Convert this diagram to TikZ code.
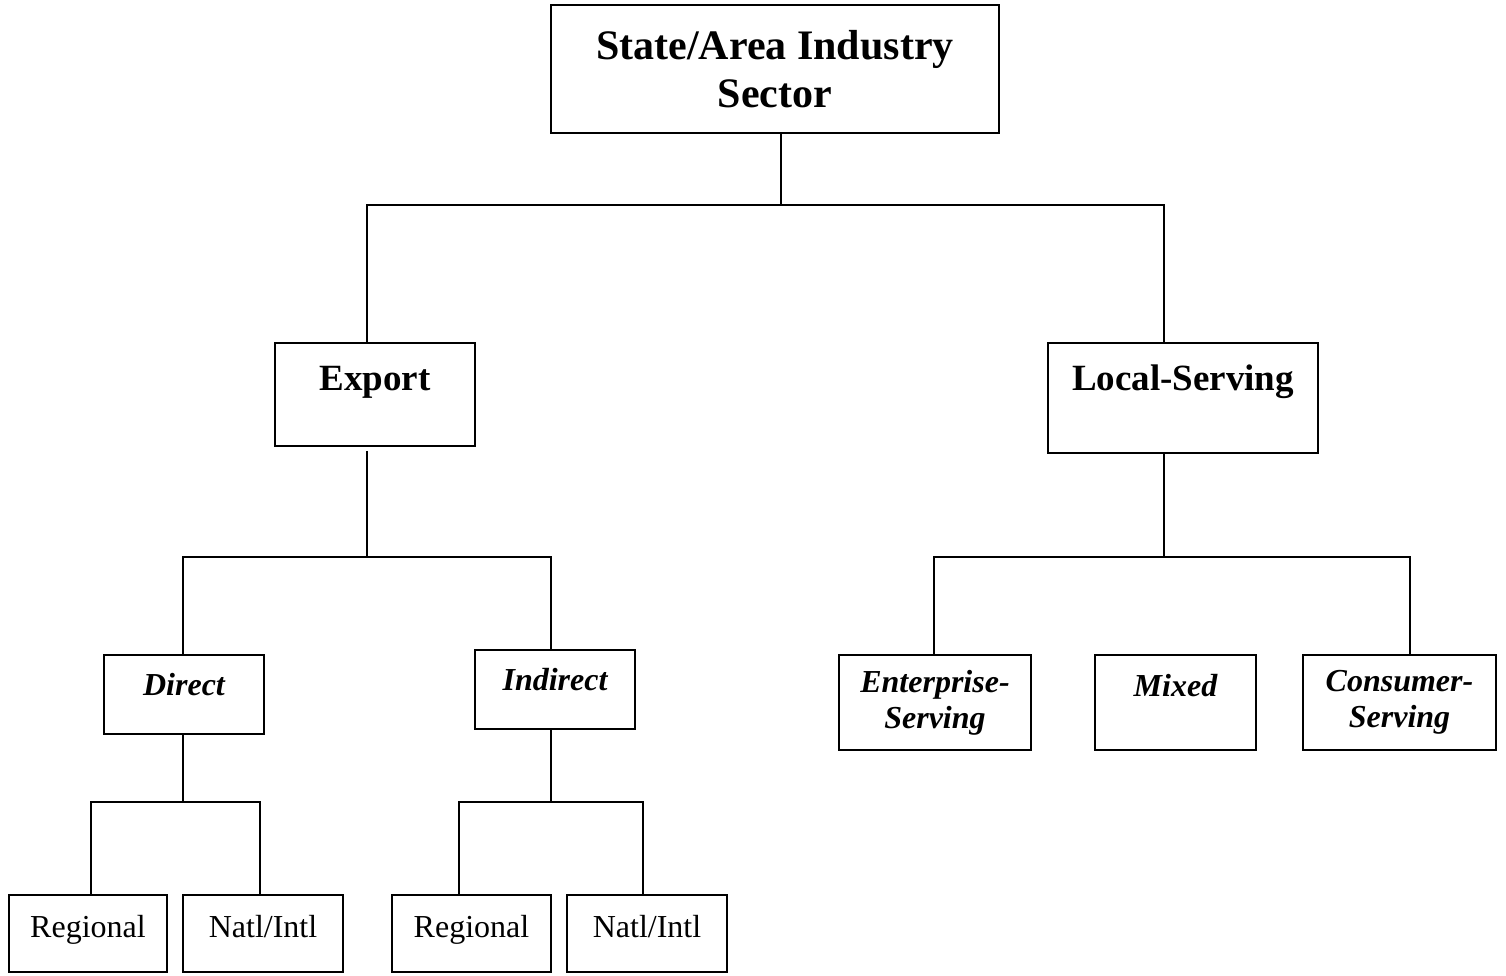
\documentclass[tikz,border=0pt]{standalone}
\usepackage{fontspec}
\setmainfont{Liberation Serif}
\usepackage{tikz}
\usetikzlibrary{positioning}

\begin{document}
\begin{tikzpicture}[
  x=1pt,y=-1pt,
  box/.style={rectangle,draw=black,line width=1.6pt,inner sep=0pt,align=center},
  topnode/.style={box,font=\fontsize{42}{48}\selectfont\bfseries},
  secnode/.style={box,font=\fontsize{37}{44}\selectfont\bfseries},
  subnode/.style={box,font=\fontsize{32}{36}\selectfont\bfseries\itshape},
  leafnode/.style={box,font=\fontsize{32}{38}\selectfont},
  link/.style={line width=1.6pt,black},
]
\useasboundingbox (0,0) rectangle (1506,975);

% Top level
\node[topnode,minimum width=448pt,minimum height=128pt] (sector) at (775,69) {State/Area Industry\\Sector};

% Second level
\node[secnode,minimum width=200pt,text height=47pt,text depth=56pt] (export) at (375,394.5) {Export};
\node[secnode,minimum width=270pt,text height=47pt,text depth=63pt] (local)  at (1183,398) {Local-Serving};

% Export branch
\node[subnode,minimum width=160pt,text height=40pt,text depth=39pt] (direct)   at (184,694.5) {Direct};
\node[subnode,minimum width=160pt,text height=40pt,text depth=39pt] (indirect) at (555,689.5) {Indirect};

% Local-serving branch
\node[subnode,minimum width=192pt,minimum height=95pt] (enterprise) at (935,702.5) {Enterprise-\\Serving};
\node[subnode,minimum width=161pt,text height=41pt,text depth=54pt] (mixed) at (1175.5,702.5) {Mixed};
\node[subnode,minimum width=193pt,minimum height=95pt] (consumer) at (1399.5,702.5) {Consumer-\\Serving};

% Bottom level
\node[leafnode,minimum width=158pt,text height=42pt,text depth=35pt] (regA) at (88,933.5)  {Regional};
\node[leafnode,minimum width=160pt,text height=42pt,text depth=35pt] (natA) at (263,933.5) {Natl/Intl};
\node[leafnode,minimum width=159pt,text height=42pt,text depth=35pt] (regB) at (471.5,933.5) {Regional};
\node[leafnode,minimum width=160pt,text height=42pt,text depth=35pt] (natB) at (647,933.5) {Natl/Intl};

% Junctions
\coordinate (busA) at (781,205);
\coordinate (busB) at (367,557);
\coordinate (busC) at (1164,557);
\coordinate (busD) at (183,802);
\coordinate (busE) at (551,802);

% Connectors
\draw[link] ([xshift=6pt]sector.south) -- (busA);
\draw[link] ([xshift=-8pt]export.north) |- (busA) -| ([xshift=-19pt]local.north);

\draw[link] ([xshift=-8pt,yshift=-4pt]export.south) -- (busB);
\draw[link] ([xshift=-1pt]direct.north) |- (busB) -| ([xshift=-4pt]indirect.north);

\draw[link] ([xshift=-19pt]local.south) -- (busC);
\draw[link] ([xshift=-1pt]enterprise.north) |- (busC) -| ([xshift=10.5pt]consumer.north);

\draw[link] ([xshift=-1pt]direct.south) -- (busD);
\draw[link] ([xshift=3pt]regA.north) |- (busD) -| ([xshift=-3pt]natA.north);

\draw[link] ([xshift=-4pt]indirect.south) -- (busE);
\draw[link] ([xshift=-12.5pt]regB.north) |- (busE) -| ([xshift=-4pt]natB.north);
\end{tikzpicture}
\end{document}
